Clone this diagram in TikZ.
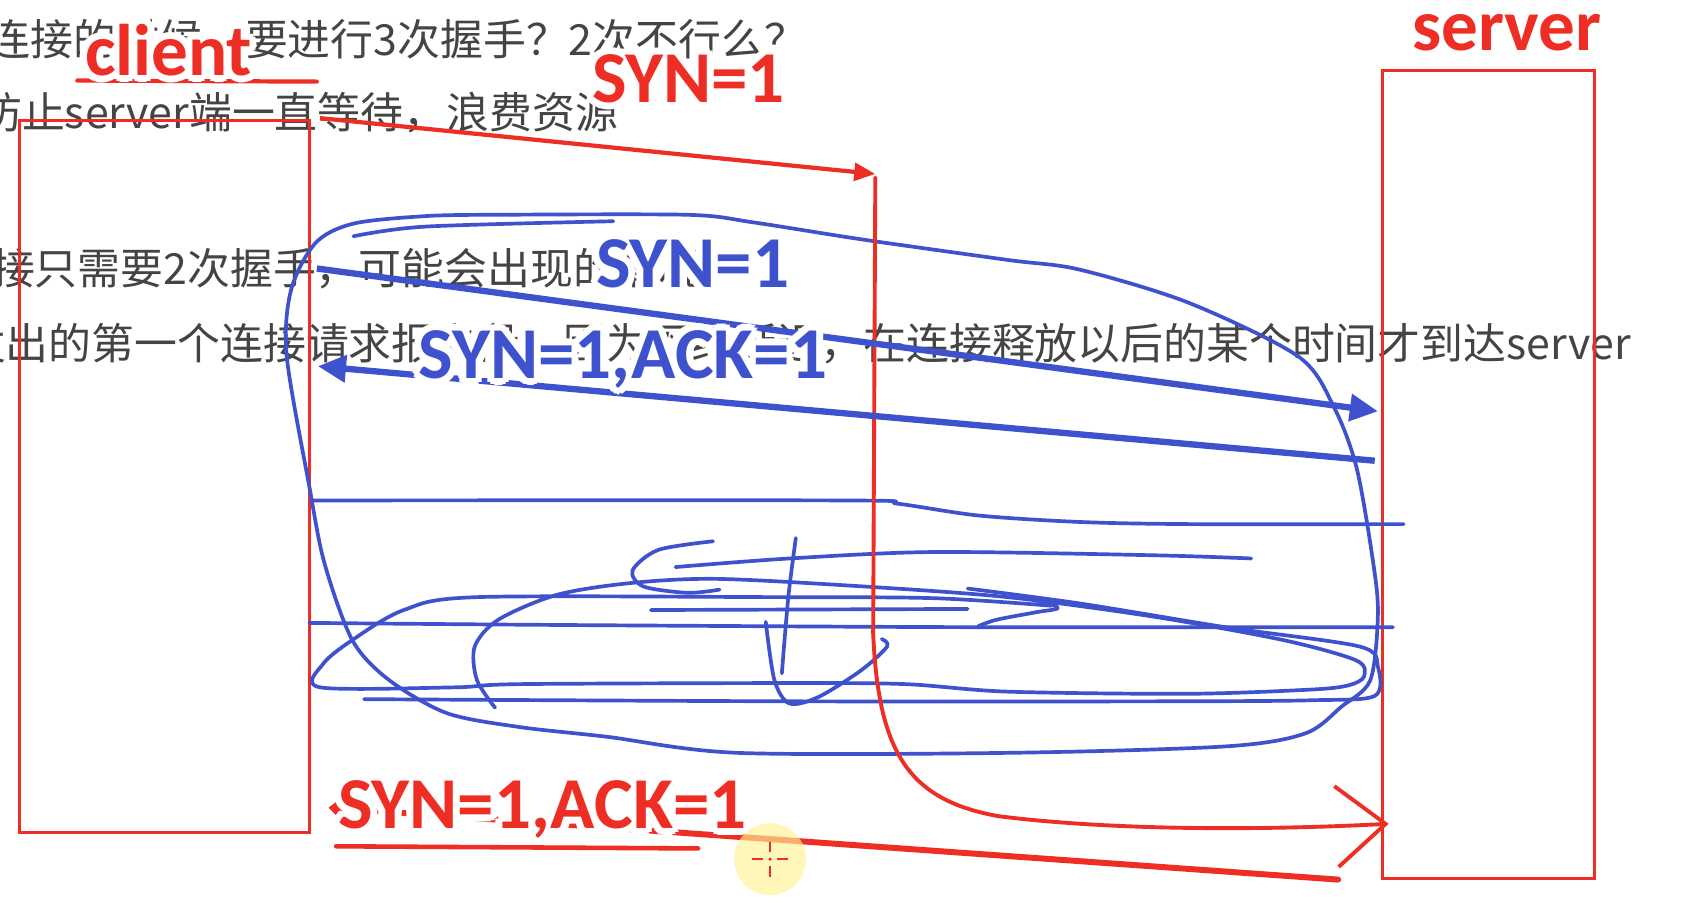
\documentclass[tikz,border=0pt]{standalone}
\usepackage{fontspec}
\setmainfont{Noto Sans CJK SC}
\newfontfamily\tagfont{Carlito}
\usetikzlibrary{arrows.meta, positioning, calc}
\definecolor{penred}{RGB}{238,46,36}
\definecolor{penblue}{RGB}{62,82,206}
\definecolor{notegray}{RGB}{68,68,68}
\definecolor{cursoryellow}{RGB}{255,244,150}
% sticker label: white outline first, coloured text on top
\newcommand{\halolabel}[4]{%
  \foreach \ang in {0,30,...,330}
    \node[tag, text=white] at ([shift={(\ang:2pt)}]#1) {#4};
  \node[tag, text=#3] (#2) at (#1) {#4};
}

\begin{document}
\begin{tikzpicture}[
  x=0.01074cm, y=-0.01074cm,
  note/.style={anchor=west, inner sep=0pt, text=notegray,
               font=\fontsize{12.2}{14}\selectfont},
  tag/.style={inner sep=0pt, font=\tagfont\bfseries\fontsize{20.8}{22}\selectfont},
  hostbox/.style={draw=penred, line width=0.9pt, inner sep=0pt},
  redarr/.style={penred, line width=1.2pt, -{Triangle[length=6pt,width=5pt]}},
  bluearr/.style={penblue, line width=1.8pt, -{Triangle[length=8pt,width=7.5pt]}},
  scribble/.style={penblue, line width=1.05pt, line cap=round, line join=round}
]
\useasboundingbox (0,0) rectangle (1568,860);
\clip (0,0) rectangle (1568,860);
\fill[white] (0,0) rectangle (1568,860);

% notes behind the drawing
\node[note] (line1) at (-12,37)  {连接的时候，要进行3次握手？2次不行么？};
\node[note] (line2) at (-20,105) {防止server端一直等待，浪费资源};
\node[note] (line3) at (-8,250)  {接只需要2次握手，可能会出现的情况};
\node[note] (line4) at (-35,320) {发出的第一个连接请求报文段，因为网络延迟，在连接释放以后的某个时间才到达server};

% the two hosts
\node[hostbox, minimum width=2.9cm, minimum height=7.12cm] (client) at (153,443.5) {};
\node[hostbox, minimum width=2.127cm, minimum height=8.077cm] (server) at (1386,442) {};

% crossed-out second handshake
\draw[scribble] plot[smooth] coordinates {(329,220) (396,211) (571,206)};
\draw[scribble] plot[smooth] coordinates {(464,200) (640,200) (701,207) (803,223)
  (938,242) (1005,251) (1107,282) (1209,332) (1242,379) (1263,435) (1278,520)
  (1283,571) (1276,633) (1249,658) (1215,683) (1141,695) (938,701) (687,701)
  (565,686) (484,677) (416,664) (362,633) (328,596) (302,524) (288,453)
  (267,332) (271,270) (294,226) (330,208) (400,201) (464,200)};
\draw[scribble] plot[smooth] coordinates {(291,466) (789,466) (836,469) (911,480)
  (1005,486) (1107,488) (1307,488)};
\draw[scribble] plot[smooth] coordinates {(664,504) (613,512) (589,531) (599,546)
  (640,552) (670,549)};
\draw[scribble] plot[smooth] coordinates {(629,528) (735,520) (870,514) (1073,517) (1165,520)};
\draw[scribble] plot[smooth] coordinates {(741,501) (734,556) (728,627)};
\draw[scribble] plot[smooth] coordinates {(713,579) (721,633) (735,655) (762,649)
  (802,624) (826,602) (821,595)};
\draw[scribble] plot[smooth] coordinates {(461,659) (444,633) (442,602) (464,577)
  (518,554) (586,543) (667,539) (803,546) (938,556) (1073,574) (1195,596)
  (1263,615) (1270,630) (1256,638) (1222,642) (1107,646) (938,644) (843,637)
  (735,636) (484,637) (423,640) (298,640) (301,618) (328,596) (376,568)
  (444,556) (721,556) (870,557) (979,564)};
\draw[scribble] plot[smooth] coordinates {(288,580) (532,582) (911,584) (1297,584)};
\draw[scribble] plot[smooth] coordinates {(339,651) (735,653) (1094,653) (1222,652)
  (1280,648) (1283,621) (1266,602) (1141,584) (1006,562) (901,548)};
\draw[scribble] plot[smooth] coordinates {(606,568) (901,567)};
\draw[scribble] plot[smooth] coordinates {(965,557) (985,566) (965,570) (928,577) (911,583)};

% segments
\coordinate (synout)  at (298,110);
\coordinate (synlost) at (815,162);
\coordinate (synlate) at (1293,767);
\coordinate (ackfrom) at (1246,819);
\coordinate (ackto)   at (306,752);
\coordinate (blueout) at (295,250);
\coordinate (bluein)  at (1283,383);
\coordinate (blueack) at (1280,429);
\coordinate (blueend) at (296,341);

\draw[redarr] (synout) -- (synlost);
\draw[penred, line width=1.1pt, line cap=round,
      -{Straight Barb[length=14pt,width=23pt]}]
  ([yshift=-1pt]synlost) -- (813,590)
  .. controls (818,700) and (845,745) .. (930,760)
  .. controls (1050,775) and (1200,772) .. (synlate);
\draw[penred, line width=1.7pt, line cap=round,
      -{Straight Barb[length=4pt,width=7pt]}] (ackfrom) -- (ackto);
\draw[bluearr] (blueout) -- (bluein);
\draw[bluearr] (blueack) -- (blueend);

% underlines
\draw[penred, line width=1.2pt, line cap=round] (72,75) -- (295,76);
\draw[penred, line width=1.3pt, line cap=round] (313,788) -- (650,790);

% labels
\coordinate (clientpos) at (157,47);
\coordinate (serverpos) at (1403,30);
\coordinate (synredpos) at (641,73);
\coordinate (synbluepos) at (645,246);
\coordinate (ackbluepos) at (580,335);
\coordinate (ackredpos) at (505,754);
\halolabel{clientpos}{clientlbl}{penred}{client}
\halolabel{serverpos}{serverlbl}{penred}{server}
\halolabel{synredpos}{synred}{penred}{SYN=1}
\halolabel{synbluepos}{synblue}{penblue}{SYN=1}
\halolabel{ackbluepos}{ackblue}{penblue}{SYN=1,ACK=1}
\halolabel{ackredpos}{ackred}{penred}{SYN=1,ACK=1}

% pointer highlight
\coordinate (pointer) at (717,800);
\fill[cursoryellow, opacity=0.65] (pointer) circle[radius=0.36cm];
\draw[penred, line width=0.7pt]
  ([yshift=5pt]pointer) -- ([yshift=2pt]pointer)
  ([yshift=-2pt]pointer) -- ([yshift=-5pt]pointer)
  ([xshift=-5pt]pointer) -- ([xshift=-2pt]pointer)
  ([xshift=2pt]pointer) -- ([xshift=5pt]pointer);
\fill[penred] (pointer) circle[radius=0.5pt];
\end{tikzpicture}
\end{document}
